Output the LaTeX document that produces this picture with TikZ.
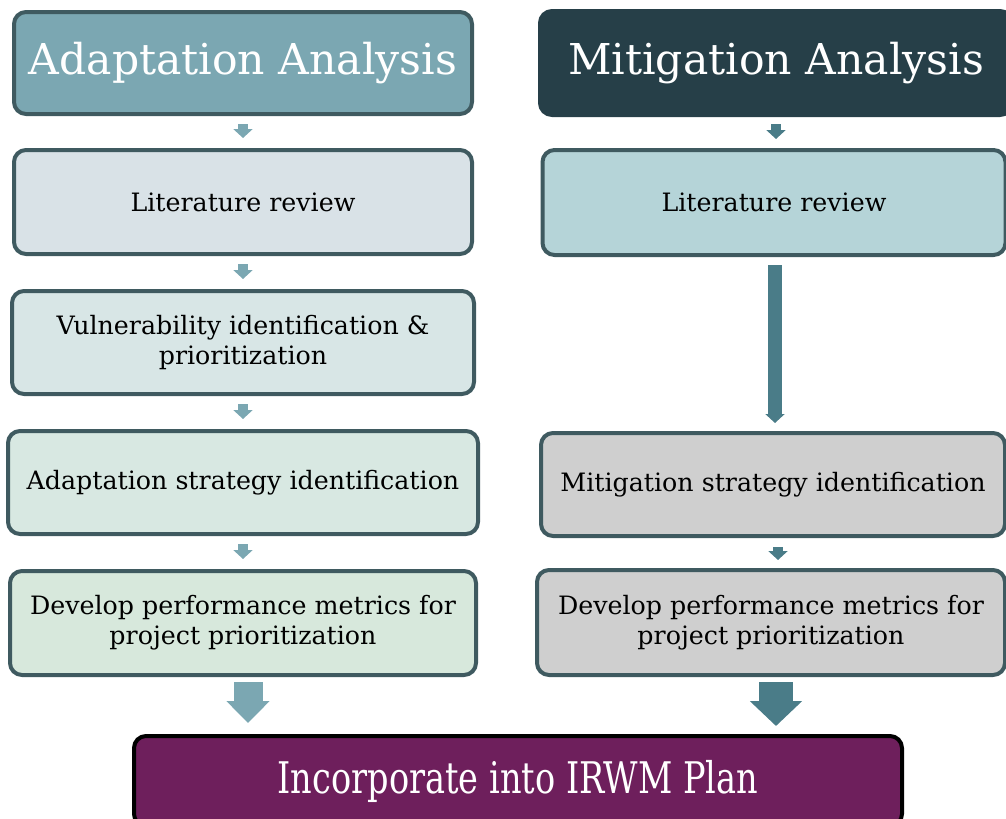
\documentclass[tikz,border=0pt]{standalone}
\usepackage{fontspec}
\setmainfont{DejaVu Serif}
\usetikzlibrary{arrows.meta}

\definecolor{adatitle}{HTML}{7BA7B2}
\definecolor{adalit}{HTML}{D9E2E7}
\definecolor{adavul}{HTML}{D8E6E6}
\definecolor{adastrat}{HTML}{D8E8E2}
\definecolor{adametric}{HTML}{D7E8DC}
\definecolor{mittitle}{HTML}{263F48}
\definecolor{mitlit}{HTML}{B5D4D8}
\definecolor{mitgray}{HTML}{CFCFCF}
\definecolor{boxline}{HTML}{3F5A60}
\definecolor{irwmfill}{HTML}{6E1F5C}
\definecolor{arrowL}{HTML}{7BA7B2}
\definecolor{arrowR}{HTML}{4A7C88}

\tikzset{
	box/.style={draw=boxline, line width=0.4mm, rounded corners=1.2mm, align=center, inner sep=0pt, font=\fontsize{7.2}{8.6}\selectfont},
	titlebox/.style={box, text=white, font=\fontsize{12.1}{14}\selectfont},
	smallarrow/.style={line width=1mm, -{Triangle[width=1.9mm,length=0.9mm]}},
	bigarrow/.style={line width=2.9mm, -{Triangle[width=4.2mm,length=2.2mm]}},
}

\begin{document}
\begin{tikzpicture}[x=0.1mm,y=-0.1mm]
		\useasboundingbox (0,0) rectangle (1006,819);

				\node [titlebox, fill=adatitle, minimum width=45.8mm, minimum height=10.2mm] (adaTitle) at (243,63) {Adaptation Analysis};
				\node [box, fill=adalit, minimum width=45.8mm, minimum height=10.4mm] (adaLit) at (243,202) {Literature review};
				\node [box, fill=adavul, minimum width=46.2mm, minimum height=10.3mm] (adaVul) at (243,342.5) {Vulnerability identification \&\\prioritization};
				\node [box, fill=adastrat, minimum width=47mm, minimum height=10.3mm] (adaStrat) at (243,482.5) {Adaptation strategy identification};
				\node [box, fill=adametric, minimum width=46.6mm, minimum height=10.4mm] (adaMetric) at (243,623) {Develop performance metrics for\\project prioritization};

				\node [titlebox, draw=mittitle, fill=mittitle, minimum width=47.2mm, minimum height=10.4mm] (mitTitle) at (776,63) {Mitigation Analysis};
				\node [box, fill=mitlit, minimum width=46.3mm, minimum height=10.5mm] (mitLit) at (774,202.5) {Literature review};
				\node [box, fill=mitgray, minimum width=46.4mm, minimum height=10.3mm] (mitStrat) at (773,484.5) {Mitigation strategy identification};
				\node [box, fill=mitgray, minimum width=46.8mm, minimum height=10.5mm] (mitMetric) at (771,622.5) {Develop performance metrics for\\project prioritization};

				\node [box, draw=black, fill=irwmfill, text=white, minimum width=76.8mm, minimum height=9mm, font=\fontsize{12.4}{14}\selectfont] (irwm) at (518,781) {\scalebox{0.77}[1]{Incorporate into IRWM Plan}};

				\draw [smallarrow, arrowL, shorten <=0.8mm, shorten >=1mm] (adaTitle) -- (adaLit);
				\draw [smallarrow, arrowL, shorten <=0.8mm, shorten >=1mm] (adaLit) -- (adaVul);
				\draw [smallarrow, arrowL, shorten <=0.8mm, shorten >=1mm] (adaVul) -- (adaStrat);
				\draw [smallarrow, arrowL, shorten <=0.8mm, shorten >=1mm] (adaStrat) -- (adaMetric);

				\draw [smallarrow, arrowR, shorten <=0.7mm, shorten >=0.9mm] (mitTitle.south) -- (mitTitle.south |- mitLit.north);
				\draw [arrowR, line width=1.4mm, -{Triangle[width=1.9mm,length=0.9mm]}, shorten <=0.8mm, shorten >=0.8mm] ([xshift=0.1mm]mitLit.south) -- ([xshift=0.1mm]mitLit.south |- mitStrat.north);
				\draw [smallarrow, arrowR, shorten <=0.9mm, shorten >=0.8mm] ([xshift=0.5mm]mitStrat.south) -- ([xshift=0.5mm]mitStrat.south |- mitMetric.north);

				\draw [bigarrow, arrowL, shorten <=0.5mm, shorten >=1.1mm] ([xshift=0.5mm]adaMetric.south) -- ([xshift=0.5mm]adaMetric.south |- irwm.north);
				\draw [arrowR, line width=3.4mm, -{Triangle[width=5.1mm,length=2.5mm]}, shorten <=0.5mm, shorten >=0.8mm] ([xshift=0.5mm]mitMetric.south) -- ([xshift=0.5mm]mitMetric.south |- irwm.north);

			\end{tikzpicture}
\end{document}
